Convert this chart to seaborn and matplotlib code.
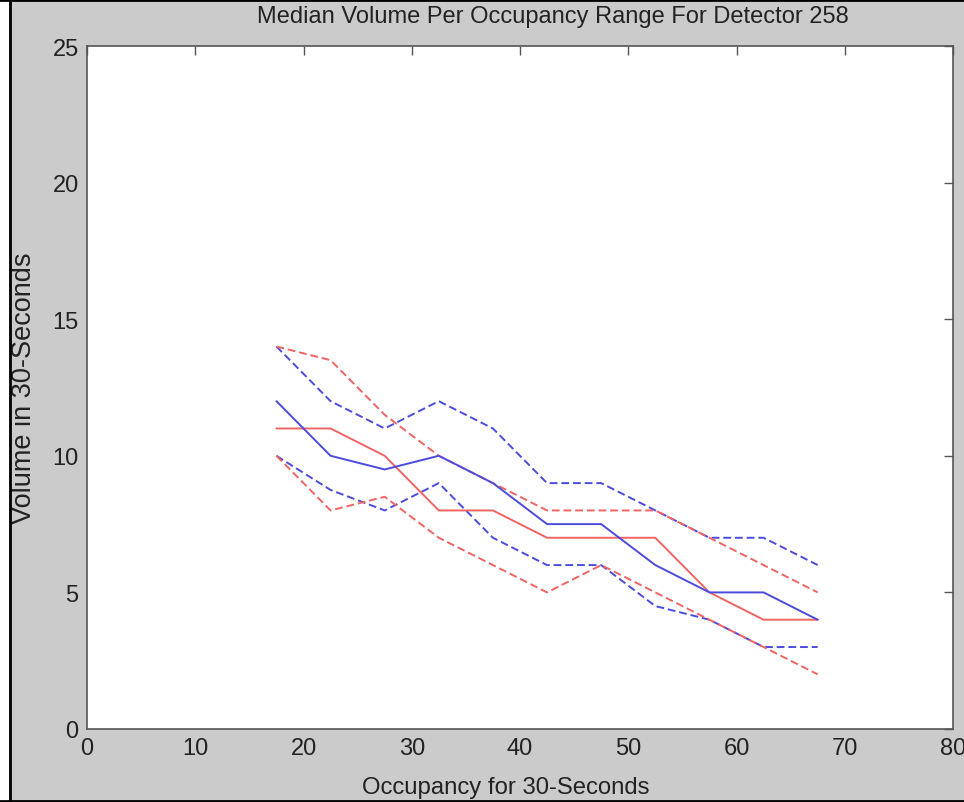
import matplotlib
matplotlib.use("Agg")
import matplotlib.pyplot as plt
import seaborn as sns
import pandas as pd
from matplotlib.patches import Rectangle
from matplotlib.lines import Line2D

occupancy = [17.5, 22.5, 27.5, 32.5, 37.5, 42.5, 47.5, 52.5, 57.5, 62.5, 67.5]
blue_median = [12, 10, 9.5, 10, 9, 7.5, 7.5, 6, 5, 5, 4]
red_median = [11, 11, 10, 8, 8, 7, 7, 7, 5, 4, 4]
blue_upper = [14, 12, 11, 12, 11, 9, 9, 8, 7, 7, 6]
blue_lower = [10, 8.75, 8, 9, 7, 6, 6, 4.5, 4, 3, 3]
red_upper = [14, 13.5, 11.5, 10, 9, 8, 8, 8, 7, 6, 5]
red_lower = [10, 8, 8.5, 7, 6, 5, 6, 5, 4, 3, 2]

x_ticks = [0, 10, 20, 30, 40, 50, 60, 70, 80]
y_ticks = [0, 5, 10, 15, 20, 25]

title = "Median Volume Per Occupancy Range For Detector 258"
xlabel = "Occupancy for 30-Seconds"
ylabel = "Volume in 30-Seconds"

sns.set_style("white")
plt.rcParams["font.family"] = ["Liberation Sans", "DejaVu Sans"]

BG = "#cbcbcb"
BLUE = "#4b4be0"
RED = "#f06464"
TXT = "#222222"

W, H = 964, 803
fig = plt.figure(figsize=(W / 100, H / 100), dpi=100, facecolor=BG)
ax = fig.add_axes([87 / W, 73 / H, (953 - 87) / W, (730 - 47) / H])
ax.set_facecolor("white")

series = [
    (blue_upper, BLUE, "dashed"),
    (blue_lower, BLUE, "dashed"),
    (red_upper, RED, "dashed"),
    (red_lower, RED, "dashed"),
    (red_median, RED, "solid"),
    (blue_median, BLUE, "solid"),
]
for vals, col, style in series:
    df = pd.DataFrame({"occ": occupancy, "vol": vals})
    sns.lineplot(data=df, x="occ", y="vol", ax=ax, color=col, lw=1.4,
                 estimator=None, sort=False)
    ln = ax.lines[-1]
    if style == "dashed":
        ln.set_dashes((4, 2))

ax.set_xlim(0, 80)
ax.set_ylim(0, 25)
ax.set_xticks(x_ticks)
ax.set_yticks(y_ticks)
ax.tick_params(direction="in", length=6.5, width=1, color="#555555",
               top=True, right=True, labelsize=17, labelcolor=TXT)
ax.tick_params(axis="y", pad=6)
ax.tick_params(axis="x", pad=6)
for s in ax.spines.values():
    s.set_visible(True)
    s.set_color("#555555")
    s.set_linewidth(1.2)

ax.set_title(title, fontsize=17, pad=17, color=TXT, x=0.538)
ax.set_xlabel(xlabel, fontsize=17.2, labelpad=12, color=TXT, x=0.484)
ax.set_ylabel(ylabel, fontsize=19.5, labelpad=11, color=TXT)

# image frame: white strip on the left, black border lines
fig.patches.append(Rectangle((0, 0), 9 / W, 1, transform=fig.transFigure,
                             facecolor="white", edgecolor="none", zorder=9))
for xs, ys in [((10 / W, 10 / W), (0, 1)),
               ((0, 1), (1 - 1 / H, 1 - 1 / H)),
               ((0, 1), (1.5 / H, 1.5 / H))]:
    fig.lines.append(Line2D(xs, ys, transform=fig.transFigure,
                            color="black", linewidth=2, zorder=10))

fig.savefig("out.png", dpi=100, facecolor=BG)
